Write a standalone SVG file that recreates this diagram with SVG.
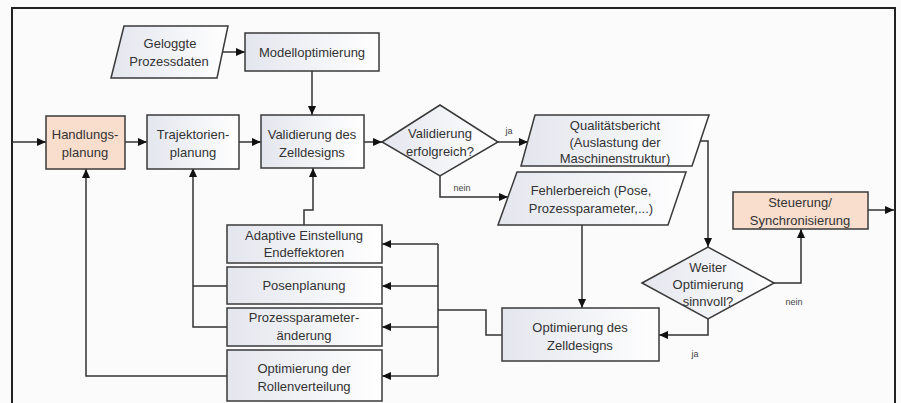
<svg xmlns="http://www.w3.org/2000/svg" width="901" height="403" viewBox="0 0 901 403">
<style>
.box{stroke:#3a3a3a;stroke-width:1.5;fill:url(#g)}
.hl{stroke:#3a3a3a;stroke-width:1.5;fill:#f9dece}
.t{font-family:"Liberation Sans",Arial,sans-serif;font-size:13px;fill:#333;text-anchor:middle}
.s{font-family:"Liberation Sans",Arial,sans-serif;font-size:9px;fill:#444;text-anchor:middle}
.c{fill:none;stroke:#333;stroke-width:1.5}
.ca{fill:none;stroke:#333;stroke-width:1.5;marker-end:url(#a)}
</style>
<defs>
<linearGradient id="g" x1="0" y1="0" x2="1" y2="0">
<stop offset="0" stop-color="#e4e6ee"/>
<stop offset="1" stop-color="#ffffff"/>
</linearGradient>
<marker id="a" markerUnits="userSpaceOnUse" markerWidth="10" markerHeight="8" refX="9" refY="4" orient="auto">
<path d="M0,0 L9,4 L0,8 Z" fill="#111"/>
</marker>
</defs>
<rect x="0" y="0" width="901" height="403" fill="#fbfbfc"/>
<path d="M12,403 V8 H895 V403" fill="none" stroke="#222" stroke-width="2"/>

<g id="connectors">
<path class="ca" d="M12,142 H46"/>
<path class="ca" d="M125,142 H147"/>
<path class="ca" d="M239,142 H261"/>
<path class="ca" d="M364,142 H382"/>
<path class="ca" d="M222,52 H245"/>
<path class="ca" d="M312,71 V115"/>
<path class="ca" d="M498,142 H528"/>
<path class="ca" d="M440,176 V197 H508"/>
<path class="ca" d="M700,141 H708 V247"/>
<path class="ca" d="M582,225 V308"/>
<path class="ca" d="M774,283 H801 V229"/>
<path class="ca" d="M708,319 V335 H659"/>
<path class="ca" d="M868,210 H894"/>
<path class="c" d="M502,335 H486 V310 H438"/>
<path class="c" d="M438,244 V376"/>
<path class="ca" d="M438,244 H382"/>
<path class="ca" d="M438,286 H382"/>
<path class="ca" d="M438,327 H382"/>
<path class="ca" d="M438,376 H382"/>
<path class="ca" d="M304,225 V210 H313 V168"/>
<path class="c" d="M227,286 H193"/>
<path class="ca" d="M227,327 H193 V168"/>
<path class="ca" d="M227,376 H86 V169"/>
<text class="s" x="509" y="134">ja</text>
<text class="s" x="462" y="191">nein</text>
<text class="s" x="794" y="305">nein</text>
<text class="s" x="695" y="357">ja</text>
</g>

<g id="geloggte">
<path class="box" d="M124,26 H228 L217,78 H111 Z"/>
<text class="t" x="170" y="48">Geloggte</text>
<text class="t" x="169" y="66">Prozessdaten</text>
</g>
<g id="modelloptimierung">
<rect class="box" x="245" y="33" width="134" height="38"/>
<text class="t" x="312" y="57">Modelloptimierung</text>
</g>
<g id="handlungsplanung">
<rect class="hl" x="46" y="116" width="79" height="53"/>
<text class="t" x="85" y="139">Handlungs-</text>
<text class="t" x="85" y="157">planung</text>
</g>
<g id="trajektorienplanung">
<rect class="box" x="147" y="115" width="92" height="54"/>
<text class="t" x="193" y="139">Trajektorien-</text>
<text class="t" x="193" y="157">planung</text>
</g>
<g id="validierung">
<rect class="box" x="261" y="115" width="103" height="53"/>
<text class="t" x="312" y="139">Validierung des</text>
<text class="t" x="312" y="157">Zelldesigns</text>
</g>
<g id="entscheidung1">
<path class="box" d="M382,142 L440,105 L498,142 L440,176 Z"/>
<text class="t" x="440" y="138">Validierung</text>
<text class="t" x="440" y="156">erfolgreich?</text>
</g>
<g id="qualitaetsbericht">
<path class="box" d="M535,115 H709 L692,166 H521 Z"/>
<text class="t" x="615" y="130">Qualitätsbericht</text>
<text class="t" x="615" y="147">(Auslastung der</text>
<text class="t" x="615" y="163">Maschinenstruktur)</text>
</g>
<g id="fehlerbereich">
<path class="box" d="M517,172 H686 L668,225 H498 Z"/>
<text class="t" x="591" y="195">Fehlerbereich (Pose,</text>
<text class="t" x="591" y="213">Prozessparameter,...)</text>
</g>
<g id="optimierung-zelldesign">
<rect class="box" x="502" y="308" width="157" height="53"/>
<text class="t" x="580" y="332">Optimierung des</text>
<text class="t" x="580" y="350">Zelldesigns</text>
</g>
<g id="entscheidung2">
<path class="box" d="M642,283 L708,247 L774,283 L708,319 Z"/>
<text class="t" x="708" y="272">Weiter</text>
<text class="t" x="708" y="289">Optimierung</text>
<text class="t" x="708" y="306">sinnvoll?</text>
</g>
<g id="steuerung">
<rect class="hl" x="733" y="192" width="135" height="37"/>
<text class="t" x="800" y="207">Steuerung/</text>
<text class="t" x="800" y="225">Synchronisierung</text>
</g>
<g id="adaptive">
<rect class="box" x="227" y="225" width="155" height="38"/>
<text class="t" x="304" y="240">Adaptive Einstellung</text>
<text class="t" x="304" y="257">Endeffektoren</text>
</g>
<g id="posenplanung">
<rect class="box" x="227" y="267" width="155" height="37"/>
<text class="t" x="304" y="290">Posenplanung</text>
</g>
<g id="prozessparameter">
<rect class="box" x="227" y="308" width="155" height="38"/>
<text class="t" x="304" y="322">Prozessparameter-</text>
<text class="t" x="304" y="340">änderung</text>
</g>
<g id="rollenverteilung">
<rect class="box" x="227" y="350" width="155" height="51"/>
<text class="t" x="304" y="373">Optimierung der</text>
<text class="t" x="304" y="391">Rollenverteilung</text>
</g>
</svg>
